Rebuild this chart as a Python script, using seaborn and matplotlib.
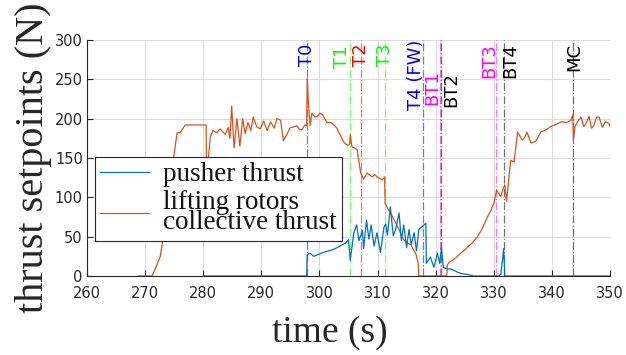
import numpy as np
import pandas as pd
import matplotlib
matplotlib.use("Agg")
import matplotlib.pyplot as plt
import seaborn as sns

# ---------------- data ----------------
lift_t = [268.8, 271.2, 271.8, 272.6, 273.2, 273.7, 274.3, 274.9, 275.5, 276.0, 276.9, 280.5, 280.6, 280.9,
          281.2, 281.7, 282.3, 282.9, 283.4, 283.8, 284.3, 284.6, 284.9, 285.1, 285.3, 285.8, 286.3, 286.8,
          287.2, 287.7, 288.2, 288.6, 289.2, 289.8, 290.4, 291.0, 291.6, 292.2, 292.7, 293.3, 293.8, 294.4,
          294.9, 295.3, 296.1, 296.6, 297.0, 297.5, 297.8, 297.9, 298.1, 298.4, 298.7, 299.2, 299.6, 300.1,
          300.5, 301.0, 301.3, 302.0, 302.5, 303.0, 303.3, 303.8, 304.2, 304.8, 305.2, 305.3, 305.6, 306.0,
          306.5, 306.8, 307.1, 307.6, 308.2, 308.7, 309.1, 309.5, 309.9, 310.4, 310.8, 311.2, 311.3, 311.9,
          312.4, 312.8, 313.2, 313.7, 314.1, 314.5, 315.1, 315.7, 316.2, 316.6, 317.0, 317.1, 321.9, 322.0,
          322.4, 322.9, 323.6, 324.3, 325.0, 325.5, 326.3, 327.2, 328.0, 328.9, 329.5, 330.0, 330.5, 331.2,
          331.6, 331.9, 332.2, 332.9, 333.5, 334.1, 334.5, 334.9, 335.3, 335.7, 336.4, 337.2, 338.1, 339.0,
          339.8, 340.8, 341.6, 342.5, 343.3, 343.6, 343.7, 344.0, 344.4, 345.0, 345.5, 345.9, 346.4, 346.8,
          347.2, 347.7, 348.1, 348.7, 349.2, 349.8, 350.0]
lift_v = [0, 0, 10, 25, 52, 80, 118, 150, 182, 182, 192, 192, 100, 150,
          176, 185, 182, 187, 183, 180, 189, 175, 216, 190, 163, 200, 165, 200,
          181, 195, 185, 202, 190, 187, 197, 185, 196, 188, 200, 198, 172, 180,
          188, 189, 191, 186, 186, 192, 191, 251, 220, 191, 207, 202, 203, 207,
          205, 199, 195, 195, 192, 188, 183, 176, 170, 166, 168, 180, 164, 163,
          160, 145, 131, 123, 131, 128, 126, 129, 126, 124, 122, 126, 92, 84,
          78, 72, 66, 59, 52, 46, 42, 40, 33, 28, 16, 0, 0, 14,
          18, 20, 24, 29, 33, 37, 42, 50, 60, 75, 83, 92, 109, 101,
          111, 116, 95, 147, 145, 183, 178, 173, 176, 183, 169, 171, 183, 186,
          190, 193, 196, 195, 198, 205, 173, 190, 196, 202, 190, 194, 203, 188,
          191, 202, 202, 189, 196, 194, 190]

push_t = [280.0, 297.8, 297.9, 298.4, 299.0, 299.7, 300.7, 301.6, 302.5, 303.5, 304.5, 305.0, 305.3, 305.9,
          306.4, 306.8, 307.4, 307.6, 308.1, 308.5, 308.9, 309.4, 309.9, 310.5, 311.1, 311.4, 311.7, 312.2,
          312.7, 313.1, 313.7, 314.1, 314.5, 315.0, 315.4, 315.8, 316.3, 316.7, 317.1, 317.7, 318.3, 318.4,
          319.1, 319.7, 320.3, 320.7, 321.0, 321.3, 322.0, 322.6, 323.2, 323.7, 324.5, 325.5, 326.5, 330.8,
          331.2, 331.5, 331.7, 331.9, 350.0]
push_v = [0, 0, 27, 29, 25, 27, 30, 32, 34, 38, 42, 46, 20, 54,
          65, 45, 58, 35, 71, 47, 65, 38, 55, 30, 62, 66, 52, 88,
          51, 59, 80, 45, 65, 36, 59, 40, 55, 32, 59, 63, 67, 16,
          24, 11, 29, 16, 37, 11, 9, 9, 7, 5, 3, 2, 0, 0,
          2, 20, 35, 0, 0]

event_names = ["T0", "T1", "T2", "T3", "T4 (FW)", "BT1", "BT2", "BT3", "BT4", "MC"]
event_times = [297.9, 305.2, 307.2, 311.3, 317.9, 320.7, 320.9, 330.4, 331.7, 343.7]
event_colors = ["#0000ff", "#00ff00", "#ff0000", "#00ff00", "#0000ff",
                "#ff00ff", "#000000", "#ff00ff", "#000000", "#000000"]

x_ticks = [260, 270, 280, 290, 300, 310, 320, 330, 340, 350]
y_ticks = [0, 50, 100, 150, 200, 250, 300]

# ---------------- layout (label placement) ----------------
label_x = [297.9, 303.9, 307.2, 311.3, 316.6, 319.4, 322.6, 329.2, 332.8, 343.9]
label_top = [296, 293.5, 296, 296, 301, 262, 259, 296, 296, 296]

sns.set_theme(style="whitegrid")
plt.rcParams["font.family"] = ["DejaVu Sans"]

fig = plt.figure(figsize=(6.26, 3.55), dpi=100)
ax = fig.add_axes([87 / 626, 79 / 355, 523 / 626, 236 / 355])

df_push = pd.DataFrame({"t": push_t, "v": push_v})
df_lift = pd.DataFrame({"t": lift_t, "v": lift_v})

blue = "#0072BD"
orange = "#D95319"

for t, c in zip(event_times, event_colors):
    ax.axvline(t, color=c, lw=0.9, ls="-.", alpha=0.55, zorder=1)

sns.lineplot(data=df_push, x="t", y="v", ax=ax, color=blue, lw=0.9, estimator=None,
             sort=False, label="pusher thrust", zorder=3)
sns.lineplot(data=df_lift, x="t", y="v", ax=ax, color=orange, lw=0.9, estimator=None,
             sort=False, label="lifting rotors\ncollective thrust", zorder=2)

for name, lx, ly, c in zip(event_names, label_x, label_top, event_colors):
    ax.text(lx, ly, name, rotation=90, ha="center", va="top", color=c, fontsize=13,
            zorder=5, clip_on=False)

ax.set_xlim(260, 350)
ax.set_ylim(0, 300)
ax.set_xticks(x_ticks)
ax.set_yticks(y_ticks)
ax.tick_params(axis="both", direction="in", length=4, width=0.8, colors="#262626",
               labelsize=10.5, pad=3, bottom=True, left=True)
ax.tick_params(axis="x", pad=7.5)
ax.grid(True, color="#dcdcdc", lw=0.8)
for s in ["top", "right"]:
    ax.spines[s].set_visible(False)
for s in ["left", "bottom"]:
    ax.spines[s].set_color("#262626")
    ax.spines[s].set_linewidth(0.8)

serif = ["Liberation Serif", "DejaVu Serif"]
ax.set_xlabel("time (s)", fontsize=27, family=serif, color="#262626", labelpad=3)
ax.xaxis.set_label_coords(0.465, -0.165)
ax.xaxis.label.set_va("top")
ax.set_ylabel("thrust setpoints (N)", fontsize=29, family=serif, color="#262626", labelpad=2)

leg = ax.legend(loc="upper left", bbox_to_anchor=(0.0153, 0.504), borderaxespad=0,
                prop={"family": serif, "size": 19.5}, frameon=True, fancybox=False,
                edgecolor="#262626", framealpha=1, handlelength=1.8, handletextpad=0.5,
                borderpad=0.2, labelspacing=0.1)
leg.get_frame().set_linewidth(0.8)
for txt in leg.get_texts():
    txt.set_linespacing(0.75)
    txt.set_color("#111111")

fig.savefig("out.png", dpi=100)
